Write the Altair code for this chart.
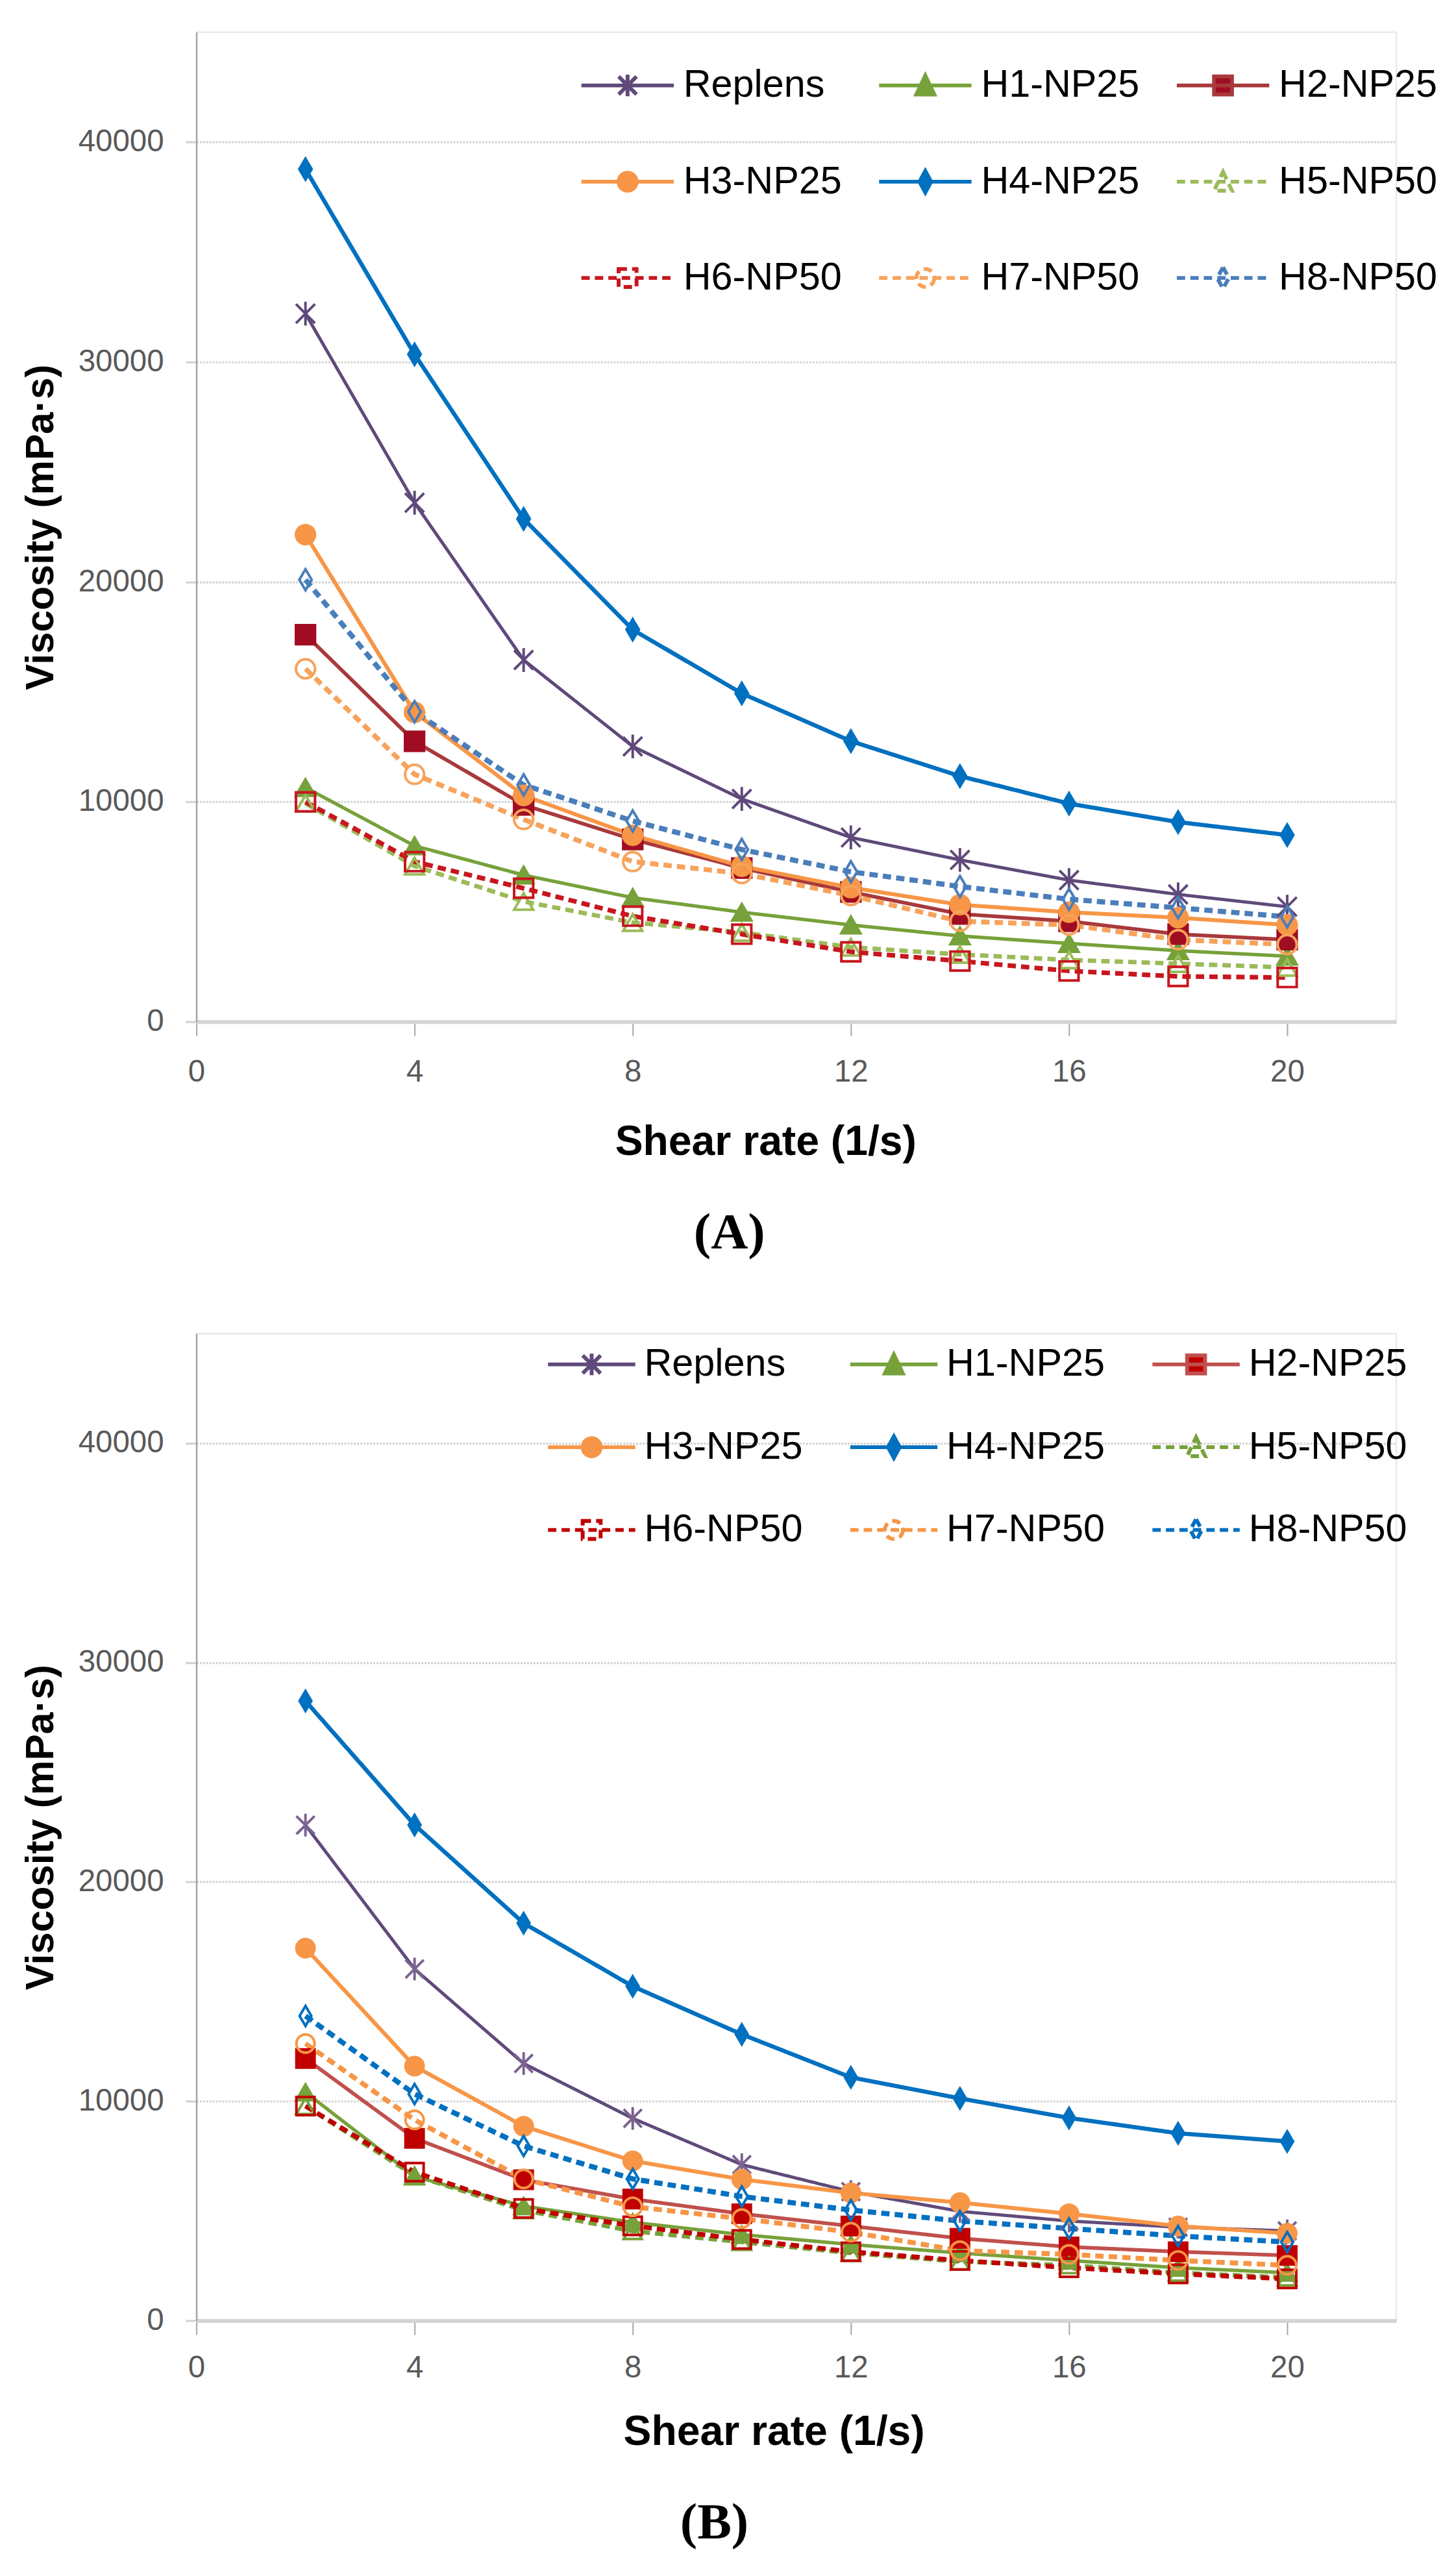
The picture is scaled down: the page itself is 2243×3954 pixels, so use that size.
import altair as alt
import pandas as pd

# shear rates (1/s) shared by every series
SHEAR = [2, 4, 6, 8, 10, 12, 14, 16, 18, 20]
SERIES = ["Replens", "H1-NP25", "H2-NP25", "H3-NP25", "H4-NP25",
          "H5-NP50", "H6-NP50", "H7-NP50", "H8-NP50"]

# panel A viscosities (mPa·s)
A_REPLENS = [32200, 23600, 16450, 12520, 10130, 8380, 7360, 6440, 5790, 5230]
A_H1 = [10650, 8000, 6670, 5640, 4980, 4400, 3900, 3560, 3230, 2980]
A_H2 = [17600, 12750, 9860, 8290, 6990, 5900, 4900, 4570, 3980, 3730]
A_H3 = [22150, 14070, 10290, 8480, 7070, 6100, 5320, 4980, 4730, 4400]
A_H4 = [38770, 30350, 22870, 17830, 14930, 12760, 11170, 9920, 9080, 8490]
A_H5 = [9930, 7080, 5470, 4510, 4060, 3390, 3060, 2810, 2640, 2470]
A_H6 = [10000, 7280, 6070, 4800, 3980, 3180, 2760, 2310, 2060, 2010]
A_H7 = [16050, 11250, 9200, 7280, 6740, 5740, 4570, 4400, 3730, 3510]
A_H8 = [20100, 14100, 10770, 9130, 7830, 6820, 6150, 5570, 5180, 4770]

# panel B viscosities (mPa·s)
B_REPLENS = [22590, 16030, 11720, 9220, 7110, 5880, 4980, 4540, 4260, 4090]
B_H1 = [10410, 6570, 5220, 4480, 3920, 3470, 3080, 2740, 2410, 2180]
B_H2 = [11950, 8310, 6420, 5540, 4870, 4310, 3750, 3360, 3140, 2970]
B_H3 = [16980, 11600, 8860, 7280, 6440, 5820, 5380, 4870, 4310, 3980]
B_H4 = [28250, 22600, 18120, 15240, 13050, 11090, 10130, 9240, 8540, 8170]
B_H5 = [9780, 6610, 5030, 4080, 3580, 3080, 2690, 2520, 2180, 1960]
B_H6 = [9780, 6770, 5110, 4320, 3700, 3140, 2740, 2410, 2130, 1900]
B_H7 = [12630, 9150, 6460, 5190, 4650, 4030, 3190, 3020, 2740, 2520]
B_H8 = [13890, 10330, 7960, 6460, 5660, 5040, 4540, 4200, 3860, 3580]

X_TICKS = [0, 4, 8, 12, 16, 20]
Y_TICKS = [0, 10000, 20000, 30000, 40000]

FONT = "Liberation Sans"
SERIF = "Liberation Serif"
DASH = [13, 8]
SOLID = [1, 0]

MARKER_KIND = ["star", "tri", "square", "circle", "diamond",
               "tri", "square", "circle", "diamond"]
HOLLOW = [False, False, False, False, False, True, True, True, True]

PLOT_SHAPES = {
    "star": "M-1,-1L1,1M-1,1L1,-1M0,-1.25L0,1.25",
    "tri": "triangle-up",
    "square": "square",
    "circle": "circle",
    "diamond": "M0,-1.1L0.65,0L0,1.1L-0.65,0Z",
}


def legend_path(kind, m):
    """Legend symbol: a horizontal line with the marker drawn in its middle."""
    r = lambda v: f"{v:.3f}"
    line = "M-1,0L1,0"
    if kind == "star":
        mark = (f"M{r(-m)},{r(-m)}L{r(m)},{r(m)}M{r(-m)},{r(m)}L{r(m)},{r(-m)}"
                f"M0,{r(-1.2 * m)}L0,{r(1.2 * m)}")
    elif kind == "tri":
        mark = f"M0,{r(-1.1 * m)}L{r(m)},{r(m)}L{r(-m)},{r(m)}Z"
    elif kind == "square":
        mark = f"M{r(-m)},{r(-m)}L{r(m)},{r(-m)}L{r(m)},{r(m)}L{r(-m)},{r(m)}Z"
    elif kind == "circle":
        mark = f"M{r(m)},0A{r(m)},{r(m)} 0 1,1 {r(-m)},0A{r(m)},{r(m)} 0 1,1 {r(m)},0Z"
    else:
        mark = f"M0,{r(-1.2 * m)}L{r(0.65 * m)},0L0,{r(1.2 * m)}L{r(-0.65 * m)},0Z"
    return line + mark


def to_long(columns):
    rows = []
    for name, values in zip(SERIES, columns):
        for x, v in zip(SHEAR, values):
            rows.append({"series": name, "shear": x, "viscosity": v})
    return pd.DataFrame(rows)


def panel(df, style):
    x_enc = alt.X(
        "shear:Q",
        scale=alt.Scale(domain=[0, 22], nice=False, zero=False),
        axis=alt.Axis(
            values=X_TICKS, format="d", grid=False, title="Shear rate (1/s)",
            titleX=style["x_title_x"], titleFont=FONT, titleFontSize=65,
            titleFontWeight="bold", titleColor="#000000",
            titlePadding=style["x_title_pad"],
            labelFont=FONT, labelFontSize=48, labelColor="#595959",
            labelPadding=style["x_label_pad"], labelFlush=False,
            domainColor="#D4D4D4", domainWidth=6,
            tickColor="#A6A6A6", tickWidth=2, tickSize=22,
        ),
    )
    y_enc = alt.Y(
        "viscosity:Q",
        scale=alt.Scale(domain=[0, 45000], nice=False),
        axis=alt.Axis(
            values=Y_TICKS, format="d", title="Viscosity (mPa·s)",
            titleFont=FONT, titleFontSize=61, titleFontWeight="bold",
            titleColor="#000000", titlePadding=26,
            labelFont=FONT, labelFontSize=48, labelColor="#595959",
            labelPadding=34, labelFlush=False,
            domainColor="#A6A6A6", domainWidth=2.5,
            tickColor="#D0D0D0", tickWidth=3, tickSize=17,
            gridColor="#D0D0D0", gridWidth=3, gridDash=[3, 2],
        ),
    )

    fills = [("transparent" if h or k == "star" else c)
             for h, k, c in zip(HOLLOW, MARKER_KIND, style["marker_colors"])]

    lines = alt.Chart(df).mark_line(strokeJoin="round").encode(
        x=x_enc,
        y=y_enc,
        color=alt.Color("series:N", scale=alt.Scale(domain=SERIES, range=style["line_colors"]), legend=None),
        strokeDash=alt.StrokeDash("series:N", scale=alt.Scale(domain=SERIES, range=style["dashes"]), legend=None),
        strokeWidth=alt.StrokeWidth("series:N", scale=alt.Scale(domain=SERIES, range=style["widths"]), legend=None),
        detail="series:N",
    )

    points = alt.Chart(df).mark_point(filled=True, opacity=1, size=style["marker_size"], strokeWidth=4).encode(
        x="shear:Q",
        y="viscosity:Q",
        shape=alt.Shape("series:N", scale=alt.Scale(domain=SERIES, range=[PLOT_SHAPES[k] for k in MARKER_KIND]), legend=None),
        fill=alt.Fill("series:N", scale=alt.Scale(domain=SERIES, range=fills), legend=None),
        stroke=alt.Stroke("series:N", scale=alt.Scale(domain=SERIES, range=style["marker_colors"]), legend=None),
    )

    leg = alt.Legend(
        title=None, orient="none", direction="horizontal",
        legendX=style["legend_x"], legendY=style["legend_y"],
        columns=3, columnPadding=style["col_pad"], rowPadding=style["row_pad"], padding=0,
        labelOffset=style["label_offset"], labelFont=FONT, labelFontSize=60,
        labelColor="#000000", labelLimit=400,
        symbolSize=style["line_len"] ** 2, symbolStrokeWidth=6,
    )
    m = 14.0 / (style["line_len"] / 2)
    key = alt.Chart(df).transform_filter("false").mark_point(filled=True, opacity=1).encode(
        x="shear:Q",
        y="viscosity:Q",
        shape=alt.Shape("series:N", scale=alt.Scale(domain=SERIES, range=[legend_path(k, m) for k in MARKER_KIND]), legend=leg),
        fill=alt.Fill("series:N", scale=alt.Scale(domain=SERIES, range=fills), legend=leg),
        stroke=alt.Stroke("series:N", scale=alt.Scale(domain=SERIES, range=style["line_colors"]), legend=leg),
        strokeDash=alt.StrokeDash("series:N", scale=alt.Scale(domain=SERIES, range=style["dashes"]), legend=leg),
    )

    return alt.layer(lines, points, key).resolve_scale(
        color="independent", shape="independent", fill="independent",
        stroke="independent", strokeDash="independent", strokeWidth="independent",
    ).properties(
        width=1870,
        height=style["height"],
        title=alt.TitleParams(
            text=style["tag"], orient="bottom", anchor="middle", frame="bounds",
            font=SERIF, fontSize=80, fontWeight="bold", color="#000000",
            offset=style["tag_offset"],
        ),
    )


style_a = {
    "line_colors": ["#5F497A", "#77A13A", "#A8393B", "#F79646", "#0070C0",
                    "#9BBB59", "#C8161E", "#F7A35C", "#4A7EBB"],
    "marker_colors": ["#5F497A", "#77A13A", "#A00D22", "#F79646", "#0070C0",
                      "#9BBB59", "#C8161E", "#F7A35C", "#4A7EBB"],
    "dashes": [SOLID] * 5 + [DASH] * 4,
    "widths": [5, 8, 7, 6, 6, 6, 6, 5, 6],
    "marker_size": 880,
    "height": 1542,
    "legend_x": 597, "legend_y": 8, "line_len": 144, "row_pad": 45,
    "label_offset": 12, "col_pad": 46,
    "x_title_x": 887, "x_title_pad": 53, "x_label_pad": 33,
    "tag": "(A)", "tag_offset": 70,
}

style_b = {
    "line_colors": ["#604A7B", "#77A13A", "#C0504D", "#F79646", "#0070C0",
                    "#77A13A", "#C00000", "#F79646", "#0070C0"],
    "marker_colors": ["#7B6391", "#77A13A", "#C00000", "#F79646", "#0070C0",
                      "#77A13A", "#C00000", "#F79646", "#0070C0"],
    "dashes": [SOLID] * 5 + [DASH] * 4,
    "widths": [5, 8, 5, 5, 6, 6, 6, 6, 7],
    "marker_size": 800,
    "height": 1538,
    "legend_x": 545, "legend_y": -23, "line_len": 136, "row_pad": 28,
    "label_offset": 11, "col_pad": 62,
    "x_title_x": 900, "x_title_pad": 44, "x_label_pad": 28,
    "tag": "(B)", "tag_offset": 70,
}

df_a = to_long([A_REPLENS, A_H1, A_H2, A_H3, A_H4, A_H5, A_H6, A_H7, A_H8])
df_b = to_long([B_REPLENS, B_H1, B_H2, B_H3, B_H4, B_H5, B_H6, B_H7, B_H8])

chart = alt.vconcat(panel(df_a, style_a), panel(df_b, style_b), spacing=92).configure(
    padding={"left": 24, "top": 18, "right": 20, "bottom": 10},
    font=FONT,
    background="white",
).configure_view(stroke="#E6E6E6", strokeWidth=2)

chart.save("out.html", embed_options={"renderer": "svg", "actions": False})
